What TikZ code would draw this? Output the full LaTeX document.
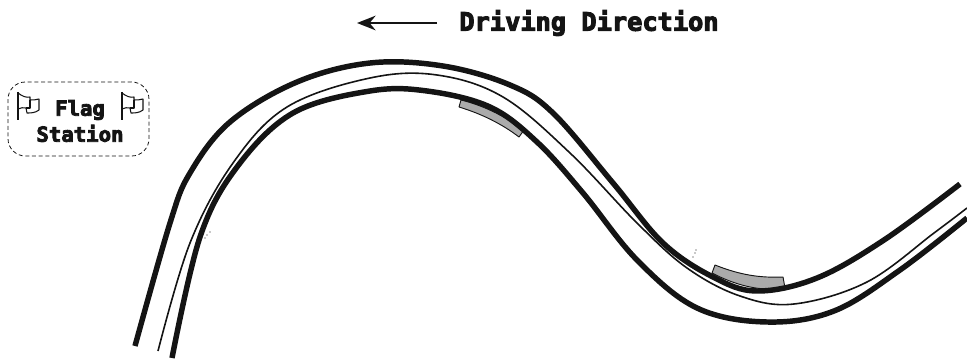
\documentclass[tikz,border=0pt]{standalone}
\usepackage{fontspec}
\usetikzlibrary{arrows.meta}
\newfontfamily\blockfont[FakeBold=4]{DejaVu Sans Mono Bold}
\definecolor{road}{HTML}{141414}
\definecolor{patch}{HTML}{ABABAB}
\tikzset{
  edge/.style={draw=road,line width=4.1pt,line join=round},
  centre/.style={draw=road,line width=1.2pt,line join=round},
  kerb/.style={draw=road,fill=patch,line width=0.7pt,line join=round},
  title/.style={font=\blockfont\fontsize{19}{19}\selectfont,text=road,inner sep=0pt},
  flagtext/.style={font=\blockfont\fontsize{15.5}{19.5}\selectfont,text=road,inner sep=0pt,align=center},
  flagline/.style={draw=road,line width=0.8pt,line join=round},
}
\newcommand{\flagicon}[2]{%
  \draw[flagline,line width=1.3pt] (#1,#2) -- (#1,#2+28);
  \draw[flagline] (#1,#2+1) .. controls (#1+4,#2+4) and (#1+8,#2+6) .. (#1+12,#2+5)
    -- (#1+12,#2+8) .. controls (#1+15,#2+8) and (#1+18,#2+8) .. (#1+21,#2+7)
    -- (#1+21,#2+18) .. controls (#1+17,#2+21) and (#1+13,#2+21) .. (#1+9,#2+21)
    -- (#1+8,#2+16) .. controls (#1+5,#2+15) and (#1+3,#2+16) .. (#1,#2+17);
  \draw[flagline] (#1+12,#2+8) -- (#1+12,#2+16) -- (#1+8,#2+16);
}
\begin{document}
\begin{tikzpicture}[x=0.75pt,y=-0.75pt]
\useasboundingbox (0,0) rectangle (967,360);
% kerbs
\draw[kerb] (461,100) .. controls (482,105) and (505,116) .. (524,130)
  -- (519,137) .. controls (502,124) and (482,114) .. (459,107) -- cycle;
\draw[kerb] (715,265) .. controls (740,275) and (760,278) .. (783,277)
  -- (785,288) .. controls (760,292) and (735,285) .. (712,273) -- cycle;
% road
\draw[edge] plot[smooth,tension=0.6] coordinates {(135,346) (170,223) (190,173) (230,122) (297,82) (370,63) (443,66) (510,85) (553,113) (613,183) (663,243) (713,277) (757,291) (817,278) (884,240) (960,184)};
\draw[edge] plot[smooth,tension=0.6] coordinates {(172,358) (200,237) (237,167) (293,113) (370,91) (427,91) (490,107) (537,142) (583,193) (637,260) (697,308) (767,322) (834,311) (900,270) (967,218)};
\draw[centre] plot[smooth,tension=0.6] coordinates {(158,351) (190,243) (233,163) (287,107) (370,78) (437,75) (503,97) (570,153) (637,223) (687,268) (740,296) (794,304) (867,282) (934,233) (967,208)};
% specks
\fill[road] (205,238) circle (0.7) (207,235) circle (0.7) (210,232) circle (0.7) (693,257) circle (0.7) (695,253) circle (0.7) (696,250) circle (0.7);
% direction
\coordinate (arrowstart) at (437,23);
\coordinate (arrowend) at (357,23);
\draw[road,line width=1.4pt,-{Stealth[length=14pt,width=11pt]}] (arrowstart) -- (arrowend);
\node[title] (direction) at (589,23) {Driving Direction};
% flag station
\node[draw=road,densely dashed,line width=0.6pt,rounded corners=13pt,minimum width=105.75pt,minimum height=55.5pt,inner sep=0pt] (station) at (78.5,119) {};
\flagicon{18}{92}
\flagicon{122}{92}
\node[flagtext] (stationlabel) at (80,121) {Flag\\Station};
\end{tikzpicture}
\end{document}
